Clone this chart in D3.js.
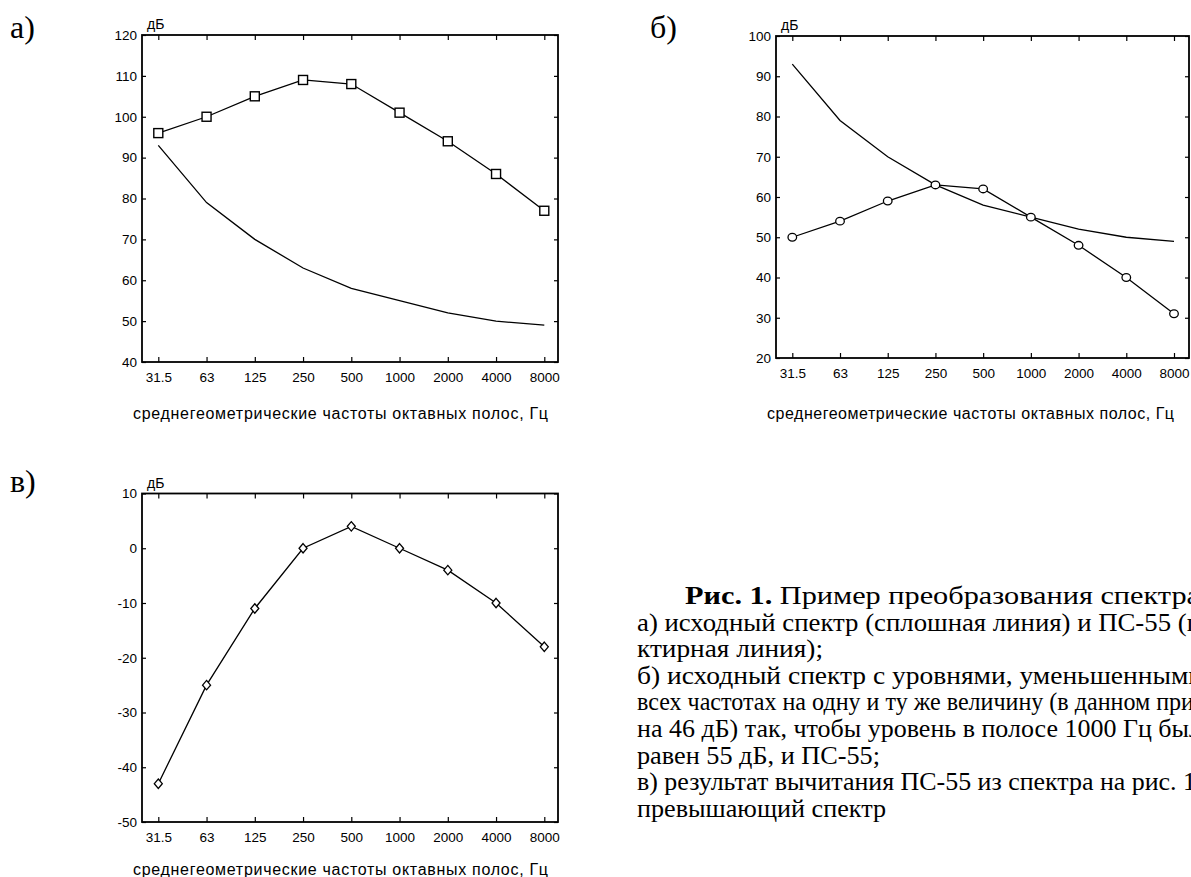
<!DOCTYPE html>
<html>
<head>
<meta charset="utf-8">
<script src="https://cdn.jsdelivr.net/npm/d3@7"></script>
<style>
  body { margin: 0; background: #ffffff; }
  svg { display: block; }
</style>
</head>
<body>
<div id="main_output"></div>
<script>
// octave band centre frequencies, Hz
const freqLabels = ["31.5", "63", "125", "250", "500", "1000", "2000", "4000", "8000"];

// a) source spectrum (squares) and PS-55 curve
const spectrumA = [96, 100, 105, 109, 108, 101, 94, 86, 77];
const ps55 = [93, 79, 70, 63, 58, 55, 52, 50, 49];
// b) spectrum lowered by 46 dB (circles)
const spectrumB = [50, 54, 59, 63, 62, 55, 48, 40, 31];
// c) excess over PS-55 (diamonds)
const excessC = [-43, -25, -11, 0, 4, 0, -4, -10, -18];

const yTicksA = [40, 50, 60, 70, 80, 90, 100, 110, 120];
const yTicksB = [20, 30, 40, 50, 60, 70, 80, 90, 100];
const yTicksC = [-50, -40, -30, -20, -10, 0, 10];

const xTitle = "среднегеометрические частоты октавных полос, Гц";
const unitLabel = "дБ";

const captionLines = [
  ["Рис. 1.", " Пример преобразования спектра"],
  ["", "а) исходный спектр (сплошная линия) и ПС-55 (п"],
  ["", "ктирная линия);"],
  ["", "б) исходный спектр с уровнями, уменьшенными"],
  ["", "всех частотах на одну и ту же величину (в данном при"],
  ["", "на 46 дБ) так, чтобы уровень в полосе 1000 Гц был"],
  ["", "равен 55 дБ, и ПС-55;"],
  ["", "в) результат вычитания ПС-55 из спектра на рис. 1"],
  ["", "превышающий спектр"]
];

const width = 1191, height = 877;
const sans = "'Liberation Sans', Arial, sans-serif";
const serif = "'Liberation Serif', 'Times New Roman', serif";

var svg = d3.select("#main_output")
  .append("svg")
  .attr("width", width)
  .attr("height", height)
  .style("background", "#ffffff");

const panels = [
  { label: "а)", lx: 10, ly: 38,
    box: {x0: 142, x1: 558, y0: 35, y1: 362}, xr: [158.3, 544.3],
    yDomain: [40, 120], yTicks: yTicksA,
    titleX: 133, titleW: 415, titleY: 419,
    series: [{values: ps55, marker: null}, {values: spectrumA, marker: "square"}] },
  { label: "б)", lx: 650, ly: 38,
    box: {x0: 776, x1: 1189, y0: 36, y1: 358}, xr: [792.3, 1174],
    yDomain: [20, 100], yTicks: yTicksB,
    titleX: 767, titleW: 407, titleY: 419,
    series: [{values: ps55, marker: null}, {values: spectrumB, marker: "circle"}] },
  { label: "в)", lx: 10, ly: 492,
    box: {x0: 142, x1: 558, y0: 493.5, y1: 822}, xr: [158.3, 544.3],
    yDomain: [-50, 10], yTicks: yTicksC,
    titleX: 133, titleW: 415, titleY: 875,
    series: [{values: excessC, marker: "diamond"}] }
];

panels.forEach(drawPanel);

function drawPanel(p) {
  const b = p.box;
  const x = d3.scalePoint().domain(freqLabels).range(p.xr);
  const y = d3.scaleLinear().domain(p.yDomain).range([b.y1, b.y0]);

  const g = svg.append("g").attr("class", "panel");

  // panel letter
  svg.append("text")
    .attr("x", p.lx).attr("y", p.ly)
    .attr("font-family", serif).attr("font-size", "32px")
    .text(p.label);

  // axes: labelled bottom/left, bare top/right, all ticks inward
  const fmt = function(d) { return String(d); };
  g.append("g")
    .attr("transform", "translate(0," + b.y1 + ")")
    .call(d3.axisBottom(x).tickSize(-5).tickPadding(10))
    .call(styleAxis);
  g.append("g")
    .attr("transform", "translate(0," + b.y0 + ")")
    .call(d3.axisTop(x).tickSize(-5).tickFormat(""))
    .call(styleAxis);
  g.append("g")
    .attr("transform", "translate(" + b.x0 + ",0)")
    .call(d3.axisLeft(y).tickValues(p.yTicks).tickFormat(fmt).tickSize(-4).tickPadding(5))
    .call(styleAxis);
  g.append("g")
    .attr("transform", "translate(" + b.x1 + ",0)")
    .call(d3.axisRight(y).tickValues(p.yTicks).tickSize(-4).tickFormat(""))
    .call(styleAxis);

  g.append("rect")
    .attr("x", b.x0).attr("y", b.y0)
    .attr("width", b.x1 - b.x0).attr("height", b.y1 - b.y0)
    .attr("fill", "none").attr("stroke", "#000").attr("stroke-width", 1.8);

  g.append("text")
    .attr("x", b.x0 + 5).attr("y", b.y0 - 6)
    .attr("font-family", sans).attr("font-size", "14px")
    .text(unitLabel);

  g.append("text")
    .attr("x", p.titleX).attr("y", p.titleY)
    .attr("font-family", sans).attr("font-size", "16px")
    .attr("textLength", p.titleW).attr("lengthAdjust", "spacing")
    .text(xTitle);

  const line = d3.line()
    .x(function(d, i) { return x(freqLabels[i]); })
    .y(function(d) { return y(d); });

  p.series.forEach(function(s) {
    g.append("path")
      .datum(s.values)
      .attr("fill", "none")
      .attr("stroke", "#000")
      .attr("stroke-width", 1.3)
      .attr("d", line);

    if (!s.marker) return;
    const pts = g.selectAll(null).data(s.values).enter();
    if (s.marker === "square") {
      pts.append("rect")
        .attr("x", function(d, i) { return x(freqLabels[i]) - 4.5; })
        .attr("y", function(d) { return y(d) - 4.5; })
        .attr("width", 9).attr("height", 9)
        .attr("fill", "#fff").attr("stroke", "#000").attr("stroke-width", 1.4);
    } else if (s.marker === "circle") {
      pts.append("ellipse")
        .attr("cx", function(d, i) { return x(freqLabels[i]); })
        .attr("cy", function(d) { return y(d); })
        .attr("rx", 4.3).attr("ry", 3.8)
        .attr("fill", "#fff").attr("stroke", "#000").attr("stroke-width", 1.3);
    } else {
      pts.append("path")
        .attr("transform", function(d, i) { return "translate(" + x(freqLabels[i]) + "," + y(d) + ")"; })
        .attr("d", "M0,-4.7L4,0L0,4.7L-4,0Z")
        .attr("fill", "#fff").attr("stroke", "#000").attr("stroke-width", 1.3);
    }
  });
}

function styleAxis(sel) {
  sel.select(".domain").remove();
  sel.selectAll(".tick line").attr("stroke", "#000").attr("stroke-width", 1.2);
  sel.selectAll(".tick text")
    .attr("fill", "#000")
    .attr("font-family", sans)
    .attr("font-size", "13.5px");
}

// caption block, cut off by the right edge as in the source
const capX = 637, capY = 604, capStep = 26.6;
const capEnds = [1200, 1201, 823, 1203, 1194, 1202, 880, 1196, 886];

captionLines.forEach(function(l, i) {
  const x0 = i === 0 ? 685 : capX;
  const t = svg.append("text")
    .attr("x", x0)
    .attr("y", capY + i * capStep)
    .attr("font-family", serif)
    .attr("font-size", "25px")
    .attr("fill", "#000")
    .attr("textLength", capEnds[i] - x0)
    .attr("lengthAdjust", "spacingAndGlyphs");
  if (l[0]) t.append("tspan").attr("font-weight", "bold").text(l[0]);
  t.append("tspan").text(l[1]);
});
</script>
</body>
</html>
